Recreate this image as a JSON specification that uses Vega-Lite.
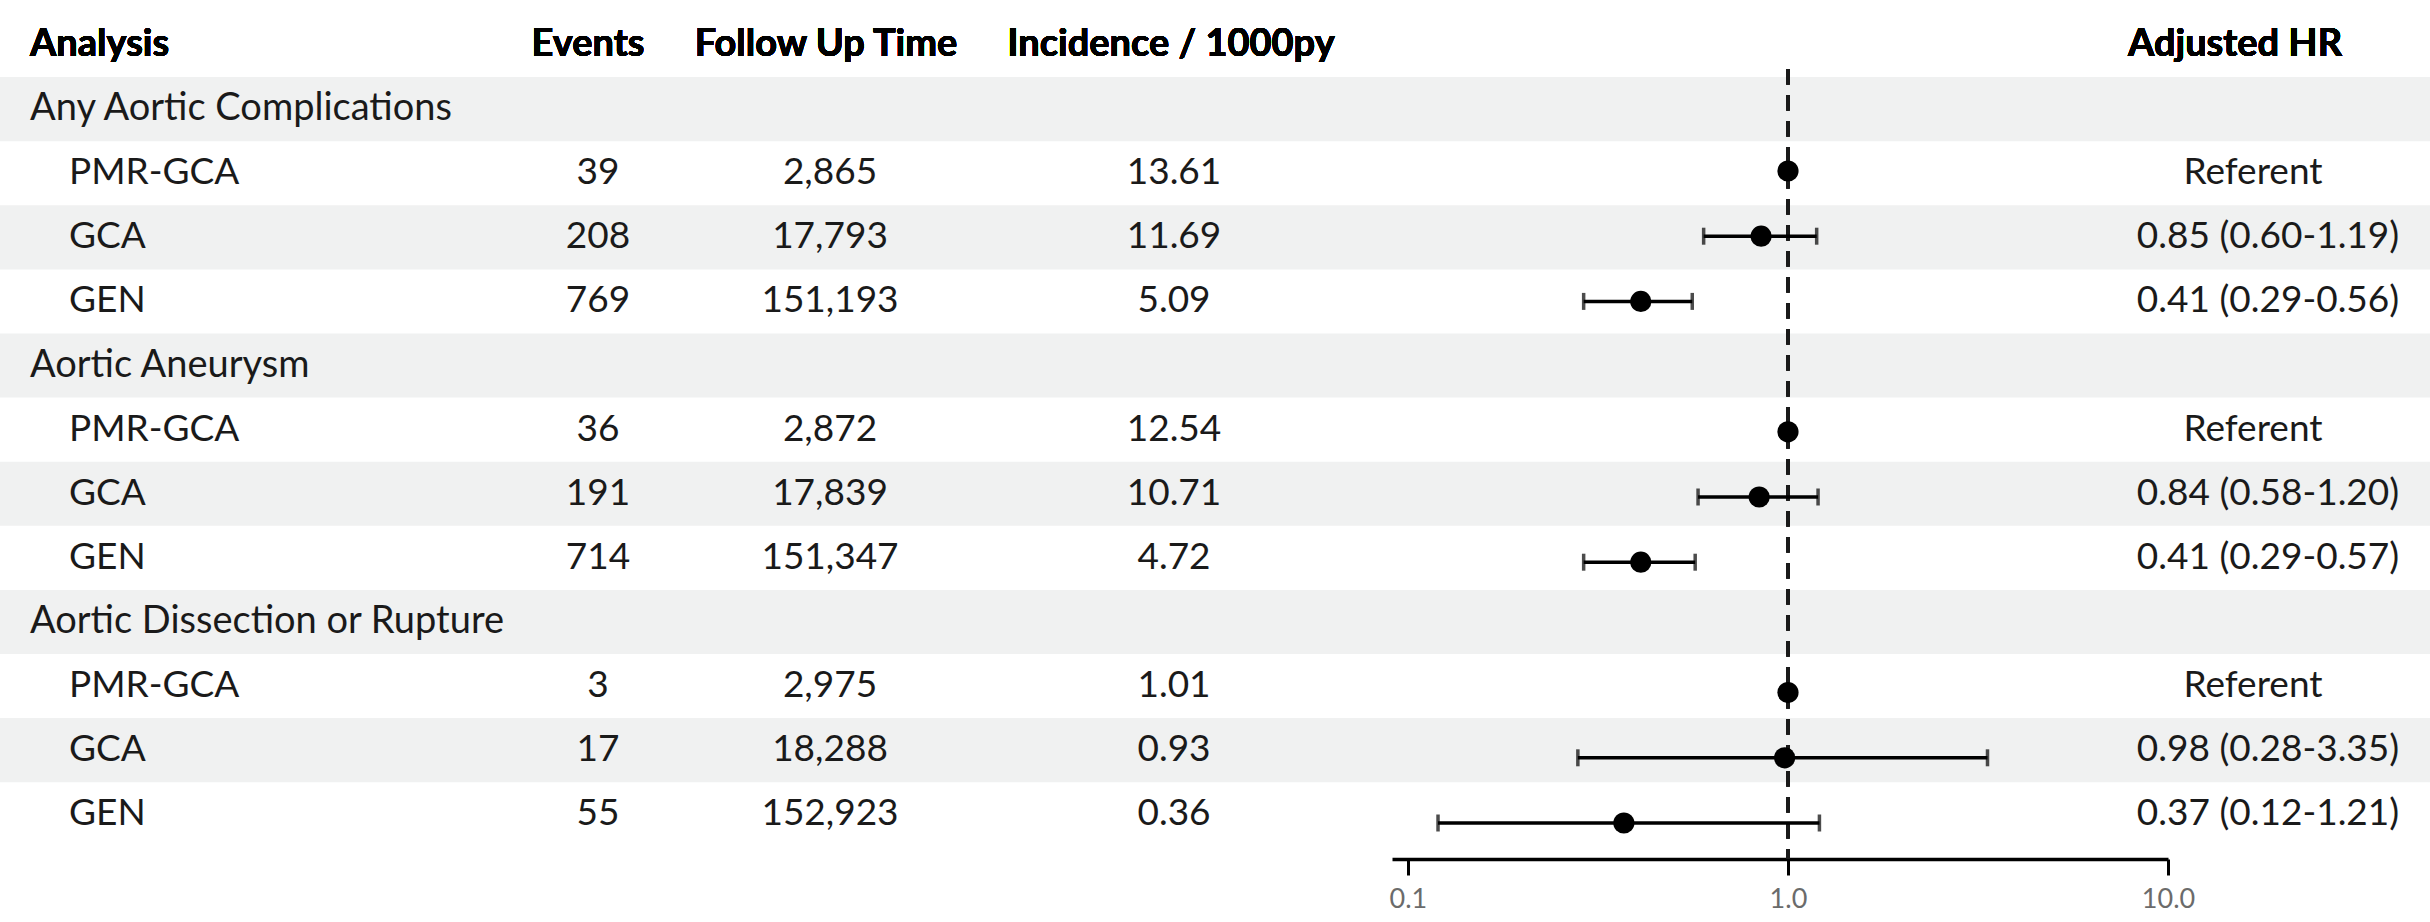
{
  "$schema": "https://vega.github.io/schema/vega-lite/v6.json",
  "width": 2430,
  "height": 859,
  "padding": 0,
  "autosize": {"type": "pad"},
  "background": "white",
  "config": {"view": {"stroke": null}, "font": "Lato", "axis": {"grid": false}},
  "datasets": {
    "rows": [
      {"row": 1, "level": "group", "label": "Any Aortic Complications"},
      {"row": 2, "level": "sub", "label": "PMR-GCA", "events": 39, "fut": 2865, "inc": 13.61, "hr": 1.0, "lo": null, "hi": null, "hr_label": "Referent"},
      {"row": 3, "level": "sub", "label": "GCA", "events": 208, "fut": 17793, "inc": 11.69, "hr": 0.85, "lo": 0.60, "hi": 1.19, "hr_label": "0.85 (0.60-1.19)"},
      {"row": 4, "level": "sub", "label": "GEN", "events": 769, "fut": 151193, "inc": 5.09, "hr": 0.41, "lo": 0.29, "hi": 0.56, "hr_label": "0.41 (0.29-0.56)"},
      {"row": 5, "level": "group", "label": "Aortic Aneurysm"},
      {"row": 6, "level": "sub", "label": "PMR-GCA", "events": 36, "fut": 2872, "inc": 12.54, "hr": 1.0, "lo": null, "hi": null, "hr_label": "Referent"},
      {"row": 7, "level": "sub", "label": "GCA", "events": 191, "fut": 17839, "inc": 10.71, "hr": 0.84, "lo": 0.58, "hi": 1.20, "hr_label": "0.84 (0.58-1.20)"},
      {"row": 8, "level": "sub", "label": "GEN", "events": 714, "fut": 151347, "inc": 4.72, "hr": 0.41, "lo": 0.29, "hi": 0.57, "hr_label": "0.41 (0.29-0.57)"},
      {"row": 9, "level": "group", "label": "Aortic Dissection or Rupture"},
      {"row": 10, "level": "sub", "label": "PMR-GCA", "events": 3, "fut": 2975, "inc": 1.01, "hr": 1.0, "lo": null, "hi": null, "hr_label": "Referent"},
      {"row": 11, "level": "sub", "label": "GCA", "events": 17, "fut": 18288, "inc": 0.93, "hr": 0.98, "lo": 0.28, "hi": 3.35, "hr_label": "0.98 (0.28-3.35)"},
      {"row": 12, "level": "sub", "label": "GEN", "events": 55, "fut": 152923, "inc": 0.36, "hr": 0.37, "lo": 0.12, "hi": 1.21, "hr_label": "0.37 (0.12-1.21)"}
    ]
  },
  "data": {"name": "rows"},
  "layer": [
    {
      "encoding": {
        "y": {
          "field": "row",
          "type": "ordinal",
          "scale": {"type": "band", "domain": [0, 1, 2, 3, 4, 5, 6, 7, 8, 9, 10, 11, 12], "range": [13, 846.3], "paddingInner": 0, "paddingOuter": 0},
          "axis": null
        }
      },
      "layer": [
        {
          "transform": [{"filter": "datum.row % 2 == 1"}],
          "mark": {"type": "rect", "color": "#f0f1f1"},
          "encoding": {}
        },
        {
          "transform": [{"filter": "datum.level == 'group'"}],
          "mark": {"type": "text", "align": "left", "baseline": "middle", "fontSize": 38, "color": "#1a1a1a"},
          "encoding": {
            "x": {"datum": 30, "type": "quantitative", "scale": {"domain": [0, 2430], "nice": false, "zero": false}, "axis": null},
            "text": {"field": "label", "type": "nominal"}
          }
        },
        {
          "transform": [{"filter": "datum.level == 'sub'"}],
          "mark": {"type": "text", "align": "left", "baseline": "middle", "fontSize": 37, "color": "#1a1a1a"},
          "encoding": {
            "x": {"datum": 69, "type": "quantitative", "scale": {"domain": [0, 2430], "nice": false, "zero": false}, "axis": null},
            "text": {"field": "label", "type": "nominal"}
          }
        },
        {
          "transform": [{"filter": "datum.level == 'sub'"}],
          "mark": {"type": "text", "align": "center", "baseline": "middle", "fontSize": 37, "color": "#1a1a1a"},
          "encoding": {
            "x": {"datum": 598, "type": "quantitative", "scale": {"domain": [0, 2430], "nice": false, "zero": false}, "axis": null},
            "text": {"field": "events", "type": "quantitative", "format": "d"}
          }
        },
        {
          "transform": [{"filter": "datum.level == 'sub'"}],
          "mark": {"type": "text", "align": "center", "baseline": "middle", "fontSize": 37, "color": "#1a1a1a"},
          "encoding": {
            "x": {"datum": 830, "type": "quantitative", "scale": {"domain": [0, 2430], "nice": false, "zero": false}, "axis": null},
            "text": {"field": "fut", "type": "quantitative", "format": ","}
          }
        },
        {
          "transform": [{"filter": "datum.level == 'sub'"}],
          "mark": {"type": "text", "align": "center", "baseline": "middle", "fontSize": 37, "color": "#1a1a1a"},
          "encoding": {
            "x": {"datum": 1174, "type": "quantitative", "scale": {"domain": [0, 2430], "nice": false, "zero": false}, "axis": null},
            "text": {"field": "inc", "type": "quantitative", "format": ".2f"}
          }
        },
        {
          "transform": [{"filter": "datum.level == 'sub' && datum.hr_label != 'Referent'"}],
          "mark": {"type": "text", "align": "center", "baseline": "middle", "fontSize": 37, "color": "#1a1a1a"},
          "encoding": {
            "x": {"datum": 2268, "type": "quantitative", "scale": {"domain": [0, 2430], "nice": false, "zero": false}, "axis": null},
            "text": {"field": "hr_label", "type": "nominal"}
          }
        },
        {
          "transform": [{"filter": "datum.hr_label == 'Referent'"}],
          "mark": {"type": "text", "align": "center", "baseline": "middle", "fontSize": 37, "color": "#1a1a1a"},
          "encoding": {
            "x": {"datum": 2253, "type": "quantitative", "scale": {"domain": [0, 2430], "nice": false, "zero": false}, "axis": null},
            "text": {"field": "hr_label", "type": "nominal"}
          }
        },
        {
          "mark": {"type": "text", "align": "left", "baseline": "middle", "fontSize": 38, "fontWeight": "bold", "color": "black", "text": "Analysis"},
          "encoding": {
            "x": {"datum": 30, "type": "quantitative", "scale": {"domain": [0, 2430], "nice": false, "zero": false}, "axis": null},
            "y": {"datum": 0, "type": "ordinal"}
          }
        },
        {
          "mark": {"type": "text", "align": "center", "baseline": "middle", "fontSize": 38, "fontWeight": "bold", "color": "black", "text": "Events"},
          "encoding": {
            "x": {"datum": 588, "type": "quantitative", "scale": {"domain": [0, 2430], "nice": false, "zero": false}, "axis": null},
            "y": {"datum": 0, "type": "ordinal"}
          }
        },
        {
          "mark": {"type": "text", "align": "center", "baseline": "middle", "fontSize": 38, "fontWeight": "bold", "color": "black", "text": "Follow Up Time"},
          "encoding": {
            "x": {"datum": 826, "type": "quantitative", "scale": {"domain": [0, 2430], "nice": false, "zero": false}, "axis": null},
            "y": {"datum": 0, "type": "ordinal"}
          }
        },
        {
          "mark": {"type": "text", "align": "center", "baseline": "middle", "fontSize": 38, "fontWeight": "bold", "color": "black", "text": "Incidence / 1000py"},
          "encoding": {
            "x": {"datum": 1171, "type": "quantitative", "scale": {"domain": [0, 2430], "nice": false, "zero": false}, "axis": null},
            "y": {"datum": 0, "type": "ordinal"}
          }
        },
        {
          "mark": {"type": "text", "align": "center", "baseline": "middle", "fontSize": 38, "fontWeight": "bold", "color": "black", "text": "Adjusted HR"},
          "encoding": {
            "x": {"datum": 2235, "type": "quantitative", "scale": {"domain": [0, 2430], "nice": false, "zero": false}, "axis": null},
            "y": {"datum": 0, "type": "ordinal"}
          }
        }
      ]
    },
    {
      "encoding": {
        "y": {
          "field": "row",
          "type": "ordinal",
          "scale": {"type": "band", "domain": [0, 1, 2, 3, 4, 5, 6, 7, 8, 9, 10, 11, 12], "range": [8, 855.6], "paddingInner": 0, "paddingOuter": 0},
          "axis": null
        }
      },
      "layer": [
        {
          "mark": {"type": "rule", "strokeDash": [15, 11], "strokeWidth": 3.5, "color": "#1a1a1a"},
          "encoding": {
            "x": {"datum": 1, "type": "quantitative", "scale": {"type": "log", "domain": [0.0908, 10], "range": [1392, 2168], "nice": false},
              "axis": {"values": [0.1, 1, 10], "format": ".1f", "title": null, "grid": false, "domainColor": "black", "domainWidth": 3.5, "tickColor": "black", "tickWidth": 3, "tickSize": 16, "labelFontSize": 27, "labelColor": "#6b6b6b", "labelPadding": 11, "labelFont": "Lato", "labelFlush": false}},
            "y": {"datum": 1, "type": "ordinal", "bandPosition": -0.06},
            "y2": {"datum": 12, "bandPosition": 1.05}
          }
        },
        {
          "transform": [{"filter": "isValid(datum.lo)"}],
          "mark": {"type": "rule", "strokeWidth": 3.5, "color": "black"},
          "encoding": {
            "x": {"field": "lo", "type": "quantitative"},
            "x2": {"field": "hi"}
          }
        },
        {
          "transform": [{"filter": "isValid(datum.lo)"}],
          "mark": {"type": "tick", "thickness": 3.5, "size": 17, "color": "black", "orient": "vertical"},
          "encoding": {
            "x": {"field": "lo", "type": "quantitative"}
          }
        },
        {
          "transform": [{"filter": "isValid(datum.hi)"}],
          "mark": {"type": "tick", "thickness": 3.5, "size": 17, "color": "black", "orient": "vertical"},
          "encoding": {
            "x": {"field": "hi", "type": "quantitative"}
          }
        },
        {
          "transform": [{"filter": "datum.level == 'sub'"}],
          "mark": {"type": "circle", "size": 450, "opacity": 1, "color": "black"},
          "encoding": {
            "x": {"field": "hr", "type": "quantitative"}
          }
        }
      ]
    }
  ],
  "resolve": {"scale": {"x": "independent", "y": "independent"}}
}
